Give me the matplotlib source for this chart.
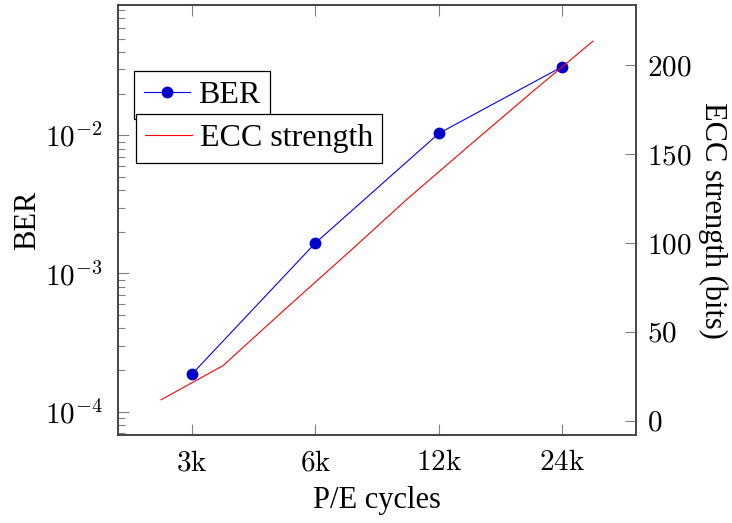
import numpy as np
import matplotlib
matplotlib.use('Agg')
import matplotlib.pyplot as plt
from matplotlib.ticker import FixedLocator, FuncFormatter, LogLocator, NullLocator, NullFormatter

plt.rcParams['font.family'] = ['Liberation Serif', 'DejaVu Serif']
plt.rcParams['mathtext.fontset'] = 'cm'

# data
pe_cycles = [3, 6, 12, 24]              # thousands
pe_labels = ['3k', '6k', '12k', '24k']
ber = [1.87e-4, 1.66e-3, 1.03e-2, 3.13e-2]

ecc_pe = [2.52, 3.57, 5.05, 7.14, 10.09, 14.27, 20.18, 28.54]
ecc_bits = [11.8, 31.0, 62.6, 93.6, 125.1, 155.0, 184.6, 213.6]

tick_grey = '#808080'
spine_col = '#404040'

fig = plt.figure(figsize=(7.32, 5.23), dpi=100)
ax1 = fig.add_axes([0.1612, 0.1683, 0.7077, 0.8222])

ax1.plot(pe_cycles, ber, color='#0000ff', lw=0.8, marker='o', ms=7.5,
         mfc='#0000cc', mec='#0000cc', label='BER')
ax1.set_xscale('log', base=2)
ax1.set_yscale('log')
ax1.set_xlim(3 * 2 ** -0.6, 24 * 2 ** 0.6)
ax1.set_ylim(10 ** -4.169, 10 ** -1.057)

ax1.xaxis.set_major_locator(FixedLocator(pe_cycles))
ax1.xaxis.set_major_formatter(FuncFormatter(lambda v, p: r'$%d\mathrm{k}$' % round(v)))
ax1.xaxis.set_minor_locator(NullLocator())
ax1.yaxis.set_major_locator(LogLocator(base=10, numticks=10))
ax1.yaxis.set_major_formatter(FuncFormatter(lambda v, p: r'$10^{%d}$' % round(np.log10(v))))
ax1.yaxis.set_minor_locator(LogLocator(base=10, subs=np.arange(2, 10), numticks=20))
ax1.yaxis.set_minor_formatter(NullFormatter())

ax1.tick_params(which='both', direction='in', top=True, right=True, color=tick_grey, width=0.8)
ax1.tick_params(which='major', length=8)
ax1.tick_params(which='minor', length=5)
ax1.tick_params(axis='x', labelsize=21, pad=11)
ax1.tick_params(axis='y', labelsize=21, pad=11)

ax1.set_xlabel('P/E cycles', fontsize=22, labelpad=7)
ax1.set_ylabel('BER', fontsize=22, labelpad=2)

ax2 = ax1.twinx()
ax2.plot(ecc_pe, ecc_bits, color='#ff0000', lw=0.8, label='ECC strength')
ax2.set_ylim(-8, 234)
ax2.set_yticks([0, 50, 100, 150, 200])
ax2.yaxis.set_major_formatter(FuncFormatter(lambda v, p: r'$%d$' % round(v)))
ax2.tick_params(direction='in', length=8, color=tick_grey, width=0.8, labelsize=21, pad=8)
ax2.set_ylabel('ECC strength (bits)', fontsize=22, rotation=-90, labelpad=26)

for ax in (ax1, ax2):
    for s in ax.spines.values():
        s.set_color(spine_col)
        s.set_linewidth(1.1)

leg_kw = dict(loc='upper left', fontsize=23, frameon=True, fancybox=False, framealpha=1,
              edgecolor='black', handlelength=1.45, handletextpad=0.25,
              borderpad=0.3, borderaxespad=0)
leg1 = ax1.legend(bbox_to_anchor=(0.031, 0.847), **leg_kw)
leg1.get_frame().set_linewidth(0.9)
leg2 = ax2.legend(bbox_to_anchor=(0.034, 0.7465), **leg_kw)
leg2.get_frame().set_linewidth(0.9)

fig.savefig('out.png', dpi=100)
